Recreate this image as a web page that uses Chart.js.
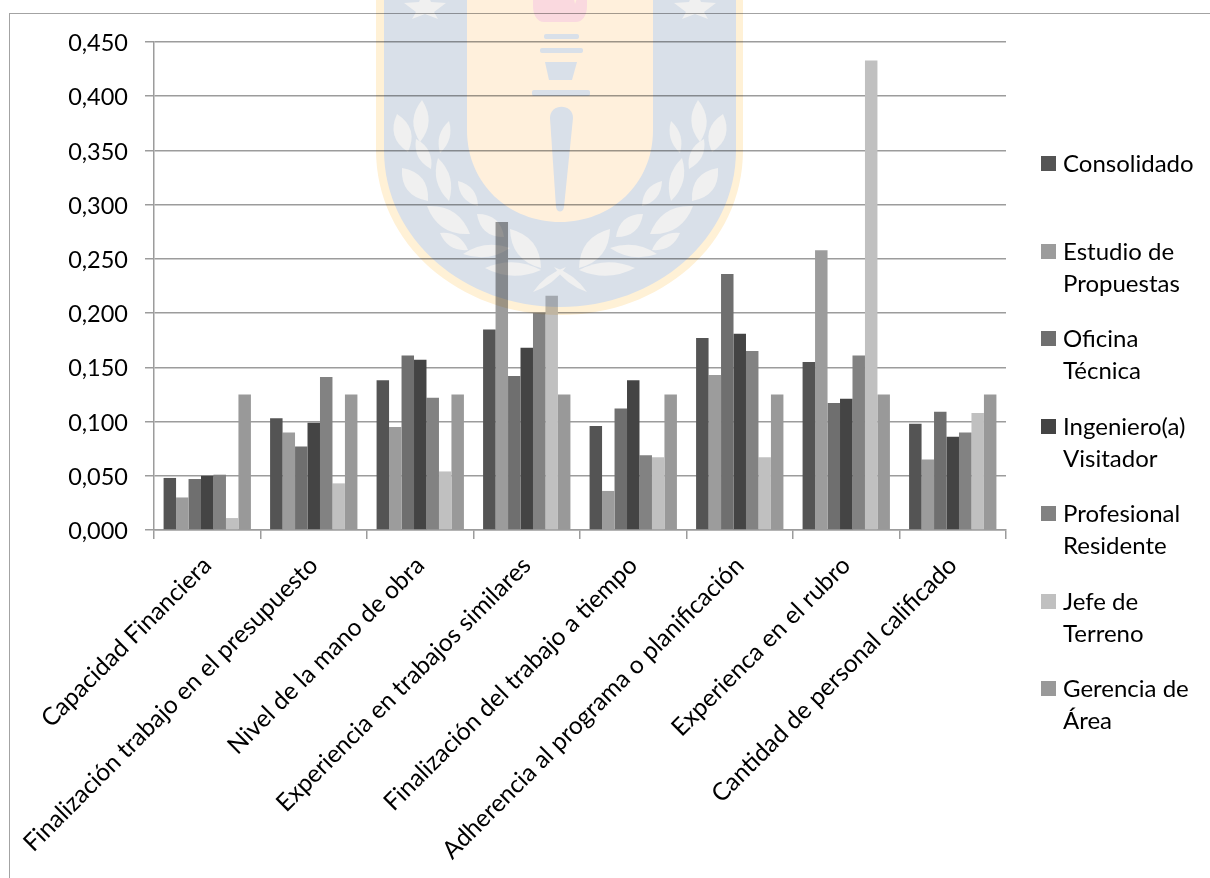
<!DOCTYPE html>
<html lang="es">
<head>
<meta charset="utf-8">
<title>Factores por área</title>
<script src="https://cdn.jsdelivr.net/npm/chart.js@4"></script>
<style>
  html, body { margin: 0; background: #fff; }
  #wrap { position: relative; width: 1210px; height: 878px; overflow: hidden; }
  #frame { position: absolute; left: 9px; top: 13px; right: -5px; bottom: -5px; border: 1.5px solid #a3a3a3; }
  #expertChart { position: absolute; left: 0; top: 0; }
  #crest { position: absolute; left: 0; top: 0; mix-blend-mode: multiply; pointer-events: none; }
  .legend-item { position: absolute; left: 1041px; font: 24px/32px Lato, sans-serif; color: #000; padding-left: 22px; white-space: nowrap; }
  .legend-item i { position: absolute; left: 0; top: 9px; width: 15px; height: 15px; }
</style>
</head>
<body>
<div id="wrap">
  <div id="frame"></div>
  <canvas id="expertChart" width="1210" height="878"></canvas>
  <svg id="crest" width="1210" height="878" viewBox="0 0 1210 878">
    <defs><filter id="soft"><feGaussianBlur stdDeviation="0.7"/></filter></defs>
    <g filter="url(#soft)">
      <path fill="#fff1d6" d="M376 -10H743V150C743 245 660 315 560 315C460 315 376 245 376 150Z"/>
      <path fill="#d9e0e9" d="M384 -10H736V150C736 240 655 307 560 307C465 307 384 240 384 150Z"/>
      <path fill="#fff0dc" d="M467 -10H653V130C653 185 610 222 560 222C510 222 467 185 467 130Z"/>
      <path fill="#fad9df" d="M533 -10H572L575 4L580 -10H587V6C587 16 582 22 576 22H544C538 22 533 16 533 6Z"/>
      <g fill="#d9e0e9">
        <rect x="544" y="34" width="35" height="5" rx="2"/>
        <rect x="540" y="48" width="43" height="5" rx="2"/>
        <path d="M545 62H577L572 80H549Z"/>
        <rect x="532" y="90" width="58" height="6" rx="2"/>
        <path d="M550 118C550 103 573 103 573 118L564 207C563 213 557 213 556 207Z"/>
      </g>
      <g id="leaves" fill="#f0f0f0"></g>
    </g>
  </svg>
</div>
<script>
const categories = [
  'Capacidad Financiera',
  'Finalización trabajo en el presupuesto',
  'Nivel de la mano de obra',
  'Experiencia en trabajos similares',
  'Finalización del trabajo a tiempo',
  'Adherencia al programa o planificación',
  'Experienca en el rubro',
  'Cantidad de personal calificado'
];
const yTickLabels = ['0,000', '0,050', '0,100', '0,150', '0,200', '0,250', '0,300', '0,350', '0,400', '0,450'];

const consolidado = [0.048, 0.103, 0.138, 0.185, 0.096, 0.177, 0.155, 0.098];
const estudioPropuestas = [0.030, 0.090, 0.095, 0.284, 0.036, 0.143, 0.258, 0.065];
const oficinaTecnica = [0.047, 0.077, 0.161, 0.142, 0.112, 0.236, 0.117, 0.109];
const ingenieroVisitador = [0.050, 0.099, 0.157, 0.168, 0.138, 0.181, 0.121, 0.086];
const profesionalResidente = [0.051, 0.141, 0.122, 0.200, 0.069, 0.165, 0.161, 0.090];
const jefeTerreno = [0.011, 0.043, 0.054, 0.216, 0.067, 0.067, 0.433, 0.108];
const gerenciaArea = [0.125, 0.125, 0.125, 0.125, 0.125, 0.125, 0.125, 0.125];

const fontFamily = 'Lato, sans-serif';
const axisGrey = '#9c9c9c';

// left half of the laurel, mirrored for the right half: base x, base y, tip x, tip y, bulge
const laurel = [
  [420, 142, 422, 100, 9], [408, 152, 397, 114, 10], [440, 153, 449, 121, 6],
  [431, 169, 416, 139, 7], [449, 201, 438, 158, 8], [428, 201, 402, 168, 11],
  [478, 206, 458, 181, 7], [470, 234, 427, 206, 11], [504, 237, 477, 214, 9],
  [468, 250, 440, 233, 7], [510, 248, 463, 254, 7], [541, 268, 510, 229, 11],
  [541, 270, 485, 268, 8], [533, 292, 566, 267, 4]
];
const leafGroup = document.getElementById('leaves');
let leafPaths = '';
laurel.forEach(([bx, by, tx, ty, w]) => {
  const len = Math.hypot(tx - bx, ty - by);
  const nx = (ty - by) / len * w * 1.7;
  const ny = -(tx - bx) / len * w * 1.7;
  const mx = (bx + tx) / 2;
  const my = (by + ty) / 2;
  const d = `M${bx} ${by}Q${mx + nx} ${my + ny} ${tx} ${ty}Q${mx - nx} ${my - ny} ${bx} ${by}Z`;
  leafPaths += `<path d="${d}"/><path d="${d}" transform="translate(1120 0) scale(-1 1)"/>`;
});
// two stars on the blue band, cut by the top edge
const star = 'M425 -12L431 2L446 3L434 12L438 19L425 14L412 19L416 12L404 3L419 2Z';
leafPaths += `<path d="${star}"/><path d="${star}" transform="translate(1120 0) scale(-1 1)"/>`;
leafGroup.innerHTML = leafPaths;

const series = [
  { label: ['Consolidado'], data: consolidado, color: '#545454' },
  { label: ['Estudio de', 'Propuestas'], data: estudioPropuestas, color: '#9c9c9c' },
  { label: ['Oficina', 'Técnica'], data: oficinaTecnica, color: '#6f6f6f' },
  { label: ['Ingeniero(a)', 'Visitador'], data: ingenieroVisitador, color: '#444444' },
  { label: ['Profesional', 'Residente'], data: profesionalResidente, color: '#828282' },
  { label: ['Jefe de', 'Terreno'], data: jefeTerreno, color: '#c0c0c0' },
  { label: ['Gerencia de', 'Área'], data: gerenciaArea, color: '#999999' }
];

const chart = new Chart(document.getElementById('expertChart'), {
  type: 'bar',
  data: {
    labels: categories,
    datasets: series.map(s => ({
      label: s.label.join(' '),
      data: s.data,
      backgroundColor: s.color,
      categoryPercentage: 0.82,
      barPercentage: 1
    }))
  },
  options: {
    responsive: false,
    animation: false,
    layout: { autoPadding: false, padding: { top: 42, right: 204, left: 0, bottom: 0 } },
    plugins: { legend: { display: false }, tooltip: { enabled: false } },
    scales: {
      x: {
        afterFit: scale => { scale.height = 348; },
        grid: { drawOnChartArea: false, color: axisGrey, lineWidth: 1.5, tickLength: 9 },
        border: { color: axisGrey, width: 1.5 },
        ticks: {
          autoSkip: false,
          minRotation: 45,
          maxRotation: 45,
          labelOffset: 0,
          padding: 12,
          color: '#000',
          font: { family: fontFamily, size: 24.5 }
        }
      },
      y: {
        min: 0,
        max: 0.45,
        afterFit: scale => { scale.width = 154; },
        grid: { color: axisGrey, lineWidth: 1.5, tickLength: 9 },
        border: { color: axisGrey, width: 1.5 },
        ticks: {
          stepSize: 0.05,
          padding: 17,
          labelOffset: 1.5,
          color: '#000',
          font: { family: fontFamily, size: 23.5 },
          callback: (value, index) => yTickLabels[index]
        }
      }
    }
  }
});

// legend entries sit in even slots down the right side
const wrap = document.getElementById('wrap');
chart.data.datasets.forEach((ds, i) => {
  const item = document.createElement('div');
  item.className = 'legend-item';
  item.style.top = (147 + i * 87.5) + 'px';
  item.innerHTML = `<i style="background:${ds.backgroundColor}"></i>` + series[i].label.join('<br>');
  wrap.appendChild(item);
});
</script>
</body>
</html>
